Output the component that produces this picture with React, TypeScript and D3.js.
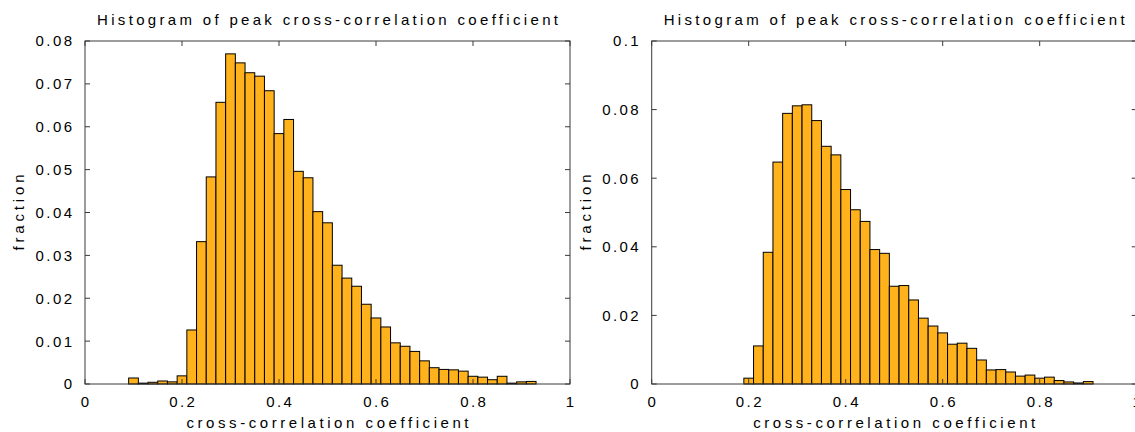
import React from "react";
import * as d3 from "d3";

const leftCenters = [0.10,0.12,0.14,0.16,0.18,0.20,0.22,0.24,0.26,0.28,0.30,0.32,0.34,0.36,0.38,0.40,0.42,0.44,0.46,0.48,0.50,0.52,0.54,0.56,0.58,0.60,0.62,0.64,0.66,0.68,0.70,0.72,0.74,0.76,0.78,0.80,0.82,0.84,0.86,0.88,0.90,0.92,0.94,0.96,0.98];
const leftValues = [0.0014,0.0002,0.0004,0.0007,0.0005,0.0019,0.0126,0.0332,0.0483,0.0657,0.0770,0.0749,0.0726,0.0718,0.0684,0.0584,0.0617,0.0496,0.0481,0.0402,0.0376,0.0277,0.0247,0.0228,0.0186,0.0154,0.0133,0.0096,0.0088,0.0076,0.0054,0.0038,0.0034,0.0033,0.0030,0.0018,0.0016,0.0010,0.0018,0.0002,0.0005,0.0006,0,0,0];

const rightCenters = [0.10,0.12,0.14,0.16,0.18,0.20,0.22,0.24,0.26,0.28,0.30,0.32,0.34,0.36,0.38,0.40,0.42,0.44,0.46,0.48,0.50,0.52,0.54,0.56,0.58,0.60,0.62,0.64,0.66,0.68,0.70,0.72,0.74,0.76,0.78,0.80,0.82,0.84,0.86,0.88,0.90,0.92,0.94,0.96,0.98];
const rightValues = [0,0,0,0,0,0.0017,0.0111,0.0384,0.0647,0.0789,0.0811,0.0814,0.0768,0.0693,0.0668,0.0567,0.0508,0.0474,0.0392,0.0381,0.0285,0.0287,0.0245,0.0192,0.0169,0.0149,0.0116,0.0119,0.0104,0.0070,0.0041,0.0042,0.0035,0.0023,0.0026,0.0017,0.0020,0.0010,0.0006,0.0003,0.0007,0,0,0,0];

const xTicks = [0, 0.2, 0.4, 0.6, 0.8, 1];
const xTickLabels = ["0", "0.2", "0.4", "0.6", "0.8", "1"];
const leftYTicks = [0, 0.01, 0.02, 0.03, 0.04, 0.05, 0.06, 0.07, 0.08];
const leftYTickLabels = ["0", "0.01", "0.02", "0.03", "0.04", "0.05", "0.06", "0.07", "0.08"];
const rightYTicks = [0, 0.02, 0.04, 0.06, 0.08, 0.1];
const rightYTickLabels = ["0", "0.02", "0.04", "0.06", "0.08", "0.1"];

const titleText = "Histogram of peak cross-correlation coefficient";
const xLabelText = "cross-correlation coefficient";
const yLabelText = "fraction";
const binWidth = 0.02;

const W = 1135;
const H = 432;
const TOP = 41;
const BOTTOM = 384;
const FONT = "'Liberation Sans', Arial, Helvetica, sans-serif";
const BAR_FILL = "#FFB21C";
const FRAME = "#3a3a3a";

type PanelProps = {
  x0: number;
  x1: number;
  yMax: number;
  centers: number[];
  values: number[];
  yTicks: number[];
  yTickLabels: string[];
};

function Panel({ x0, x1, yMax, centers, values, yTicks, yTickLabels }: PanelProps) {
  const x = d3.scaleLinear().domain([0, 1]).range([x0, x1]);
  const y = d3.scaleLinear().domain([0, yMax]).range([BOTTOM, TOP]);
  const tickLen = 5;
  const ls = 2.4;
  return (
    <g>
      <text
        x={(x0 + x1) / 2}
        y={25}
        textAnchor="middle"
        fontFamily={FONT}
        fontSize={15}
        textLength={461}
        lengthAdjust="spacing"
        fill="#000"
      >
        {titleText}
      </text>
      {centers.map((c, i) => {
        const xa = x(c - binWidth / 2);
        const xb = x(c + binWidth / 2);
        const yt = y(values[i]);
        return (
          <rect
            key={i}
            x={xa}
            y={yt}
            width={xb - xa}
            height={BOTTOM - yt}
            fill={BAR_FILL}
            stroke="#000"
            strokeWidth={1}
          />
        );
      })}
      <rect x={x0} y={TOP} width={x1 - x0} height={BOTTOM - TOP} fill="none" stroke={FRAME} strokeWidth={1} />
      {yTicks.map((t, i) => (
        <g key={"yt" + i}>
          <line x1={x0} x2={x0 + tickLen} y1={y(t)} y2={y(t)} stroke={FRAME} />
          <line x1={x1} x2={x1 - tickLen} y1={y(t)} y2={y(t)} stroke={FRAME} />
          <text
            x={x0 - 13 + ls}
            y={y(t)}
            dy="0.36em"
            textAnchor="end"
            fontFamily={FONT}
            fontSize={15}
            letterSpacing={ls}
            fill="#000"
          >
            {yTickLabels[i]}
          </text>
        </g>
      ))}
      {xTicks.map((t, i) => (
        <g key={"xt" + i}>
          <line x1={x(t)} x2={x(t)} y1={TOP} y2={TOP + tickLen} stroke={FRAME} />
          <line x1={x(t)} x2={x(t)} y1={BOTTOM} y2={BOTTOM - tickLen} stroke={FRAME} />
          <text
            x={x(t) + ls / 2}
            y={407}
            textAnchor="middle"
            fontFamily={FONT}
            fontSize={15}
            letterSpacing={ls}
            fill="#000"
          >
            {xTickLabels[i]}
          </text>
        </g>
      ))}
      <text
        x={(x0 + x1) / 2}
        y={428}
        textAnchor="middle"
        fontFamily={FONT}
        fontSize={15}
        textLength={282}
        lengthAdjust="spacing"
        fill="#000"
      >
        {xLabelText}
      </text>
      <text
        transform={`translate(${x0 - 66},${(TOP + BOTTOM) / 2}) rotate(-90)`}
        textAnchor="middle"
        dy="0.36em"
        fontFamily={FONT}
        fontSize={15}
        textLength={76}
        lengthAdjust="spacing"
        fill="#000"
      >
        {yLabelText}
      </text>
    </g>
  );
}

export default function App() {
  return (
    <svg
      width={W}
      height={H}
      style={{ position: "absolute", left: 0, top: 0, background: "#fff" }}
    >
      <rect x={0} y={0} width={W} height={H} fill="#fff" />
      <Panel
        x0={85}
        x1={570}
        yMax={0.08}
        centers={leftCenters}
        values={leftValues}
        yTicks={leftYTicks}
        yTickLabels={leftYTickLabels}
      />
      <Panel
        x0={651.7}
        x1={1136.7}
        yMax={0.1}
        centers={rightCenters}
        values={rightValues}
        yTicks={rightYTicks}
        yTickLabels={rightYTickLabels}
      />
    </svg>
  );
}
